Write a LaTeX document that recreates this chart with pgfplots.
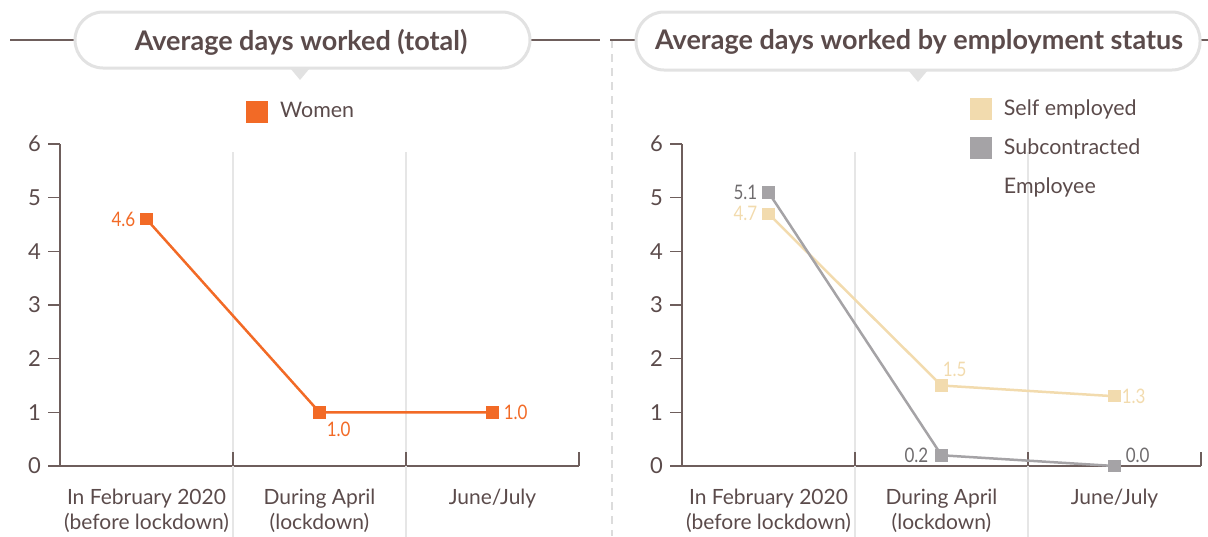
\documentclass[border=0pt]{standalone}
\usepackage{fontspec}
\setmainfont{Lato}
\newfontfamily\condfont[FakeStretch=0.85]{Lato}
\usepackage{pgfplots}
\pgfplotsset{compat=1.18}
\definecolor{txt}{HTML}{5B4B4B}
\definecolor{axc}{HTML}{6E5E5C}
\definecolor{gridc}{HTML}{E6E6E6}
\definecolor{dashc}{HTML}{DCDCDC}
\definecolor{orng}{HTML}{F26A26}
\definecolor{beige}{HTML}{F2DBAE}
\definecolor{gry}{HTML}{A5A3A6}
\definecolor{gryt}{HTML}{6F6C6E}
\definecolor{boxc}{HTML}{E2E2E2}
\tikzset{ance/.style={anchor=east}, ancw/.style={anchor=west}, ancnw/.style={anchor=north west}, ancsw/.style={anchor=south west}}
\pgfplotsset{
 mystyle/.style={
  scale only axis, width=259.5pt, height=161pt,
  xmin=0,xmax=3,ymin=0,ymax=6,
  axis x line*=bottom, axis y line*=left,
  axis line style={draw=axc,line width=0.6pt},
  ytick={0,...,6}, ytick align=outside, major tick length=6pt,
  y tick style={draw=axc,line width=0.6pt},
  xtick={0.5,1.5,2.5}, x tick style={draw=none},
  xticklabels={{In February 2020\\(before lockdown)},{During April\\(lockdown)},{June/July}},
  xticklabel style={align=center, font=\fontsize{10.5}{12.3}\selectfont, text=txt, yshift=-8pt},
  yticklabel style={font=\fontsize{11}{13}\selectfont, text=txt},
  /pgf/number format/assume math mode=true,
  clip=false,
  legend image code/.code={\fill[##1,draw=none] (0pt,-5.5pt) rectangle (11pt,5.5pt); \path[draw=none,fill=none] (0pt,0pt) rectangle (15pt,0.1pt);},
  legend style={draw=none, fill=none, font=\fontsize{10.7}{12.5}\selectfont, text=txt, cells={anchor=west}, row sep=6.3pt, inner sep=0pt},
 },
 lbl/.style={nodes near coords={\pgfplotspointmeta}, point meta=explicit symbolic,
  visualization depends on={value \thisrow{a}\as\anc},
  visualization depends on={value \thisrow{dx}\as\dx},
  visualization depends on={value \thisrow{dy}\as\dy},
  nodes near coords style={/tikz/anc\anc, xshift=\dx pt, yshift=\dy pt, font=\condfont\fontsize{10}{11}\selectfont, text=#1, inner sep=1pt}},
 series/.style={#1, line width=1.25pt, mark=square*, mark size=2.5pt, mark options={solid}}
}
\begin{document}
\begin{tikzpicture}
\path[use as bounding box] (0,0) rectangle (604pt,-268pt);
% decorations
\draw[dashc, line width=1pt, dash pattern=on 4pt off 3pt] (306pt,-20pt) -- (306pt,-268pt);
\draw[axc, line width=0.6pt] (5pt,-20pt) -- (37.5pt,-20pt) (265pt,-20pt) -- (300pt,-20pt);
\draw[axc, line width=0.6pt] (305pt,-20pt) -- (318pt,-20pt) (600pt,-20pt) -- (604pt,-20pt);
\fill[boxc] (145pt,-34pt) -- (155pt,-34pt) -- (150pt,-40pt) -- cycle;
\fill[boxc] (454pt,-35pt) -- (464pt,-35pt) -- (459pt,-41pt) -- cycle;
\draw[boxc, line width=1.5pt, fill=white, rounded corners=14pt] (37.5pt,-6pt) rectangle (265pt,-34pt);
\draw[boxc, line width=1.5pt, fill=white, rounded corners=14pt] (318pt,-6pt) rectangle (600pt,-35pt);
\node[text=txt, font=\bfseries\fontsize{13.5}{15}\selectfont] at (150.5pt,-21pt) {Average days worked (total)};
\node[text=txt, font=\bfseries\fontsize{13.5}{15}\selectfont] at (459.5pt,-21pt) {Average days worked by employment status};

\begin{axis}[mystyle, at={(30pt,-233pt)}, anchor=south west,
  legend style={at={(0.358,1.10)}, anchor=west}]
\draw[gridc, line width=0.9pt] (axis cs:1,5.85) -- (axis cs:1,-1.32);
\draw[gridc, line width=0.9pt] (axis cs:2,5.85) -- (axis cs:2,-1.32);
\draw[axc, line width=0.6pt] (axis cs:1,0) -- ++(0,7pt);
\draw[axc, line width=0.6pt] (axis cs:2,0) -- ++(0,7pt);
\draw[axc, line width=0.6pt] (axis cs:3,0) -- ++(0,7pt);
\addplot[series=orng, lbl=orng] table[meta=lab] {
x y lab a dx dy
0.5 4.6 4.6 e -4 0
1.5 1.0 1.0 nw 2 -3
2.5 1.0 1.0 w 4 0
};
\addlegendentry{Women}
\end{axis}

\begin{axis}[mystyle, at={(341pt,-233pt)}, anchor=south west,
  legend style={at={(0.554,1.152)}, anchor=north west}]
\draw[gridc, line width=0.9pt] (axis cs:1,5.85) -- (axis cs:1,-1.32);
\draw[gridc, line width=0.9pt] (axis cs:2,5.85) -- (axis cs:2,-1.32);
\draw[axc, line width=0.6pt] (axis cs:1,0) -- ++(0,7pt);
\draw[axc, line width=0.6pt] (axis cs:2,0) -- ++(0,7pt);
\draw[axc, line width=0.6pt] (axis cs:3,0) -- ++(0,7pt);
\addplot[series=beige, lbl=beige] table[meta=lab] {
x y lab a dx dy
0.5 4.7 4.7 e -4 0
1.5 1.5 1.5 sw -1 3
2.5 1.3 1.3 w 2 0
};
\addlegendentry{Self employed}
\addplot[series=gry, lbl=gryt] table[meta=lab] {
x y lab a dx dy
0.5 5.1 5.1 e -4 0
1.5 0.2 0.2 e -5 0
2.5 0.0 0.0 sw 4 0
};
\addlegendentry{Subcontracted}
\addlegendimage{white}
\addlegendentry{Employee}
\end{axis}
\end{tikzpicture}
\end{document}
